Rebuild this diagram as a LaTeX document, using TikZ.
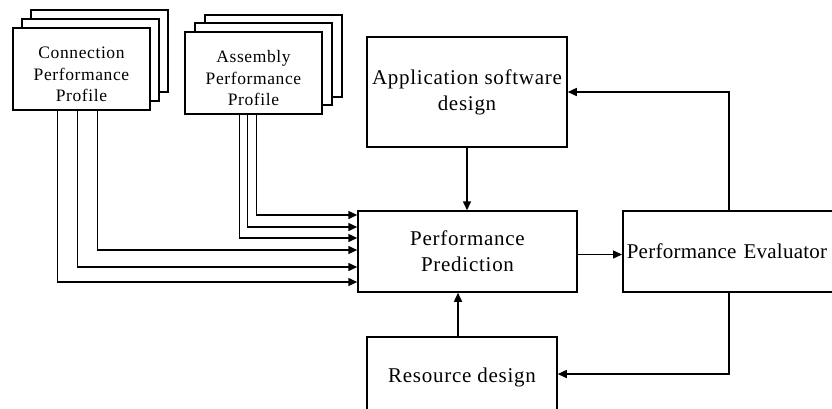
\documentclass[tikz,border=0pt]{standalone}
\usepackage{fontspec}
\setmainfont[LetterSpace=3.5]{Liberation Serif}
\usetikzlibrary{arrows.meta}
\begin{document}
\begin{tikzpicture}[x=1pt,y=-1pt,
  box/.style={draw, line width=1.5pt, fill=white, rectangle, inner sep=0pt},
  mainbox/.style={box, font=\fontsize{21}{26}\selectfont, align=center},
  profbox/.style={box, minimum width=137pt, minimum height=82pt, font=\fontsize{17.5}{21.5}\selectfont, align=center},
  layer/.style={box, minimum width=137pt, minimum height=82pt},
  arr/.style={line width=1.5pt, -{Triangle[length=9pt,width=8pt]}}]
\useasboundingbox (0,0) rectangle (832,408);
\clip (0,0) rectangle (832,408);
% Connection profile stack
\node[layer] (c3) at (99.5,51) {};
\node[layer] (c2) at (90.5,60) {};
\node[profbox] (conn) at (81.5,69) {\rule{0pt}{23pt}Connection\\Performance\\Profile};
% Assembly profile stack
\node[layer] (a3) at (273.5,56) {};
\node[layer] (a2) at (263.5,64) {};
\node[profbox] (asm) at (253.5,73) {\rule{0pt}{23pt}Assembly\\Performance\\Profile};
% Main boxes
\node[mainbox, minimum width=200pt, minimum height=110pt] (app) at (467,92) {Application software\\design};
\node[mainbox, minimum width=219pt, minimum height=81pt] (pred) at (467.5,251.5) {Performance\\Prediction};
\node[mainbox, minimum height=81pt, text width=232pt, inner xsep=4pt, align=left, anchor=west] (eval) at (622,251.5) {\addfontfeature{LetterSpace=1.2}Performance Evaluator};
\node[mainbox, minimum width=190pt, minimum height=74pt] (res) at (462,374) {\rule{0pt}{21pt}Resource design};
% Profile inputs
\draw[arr] ([xshift=72pt]asm.south west) |- ([yshift=36.5pt]pred.west);
\draw[arr] ([xshift=63pt]asm.south west) |- ([yshift=24.5pt]pred.west);
\draw[arr] ([xshift=55pt]asm.south west) |- ([yshift=13.5pt]pred.west);
\draw[arr] ([xshift=85pt]conn.south west) |- ([yshift=1.5pt]pred.west);
\draw[arr] ([xshift=65pt]conn.south west) |- ([yshift=-15.5pt]pred.west);
\draw[arr] ([xshift=45pt]conn.south west) |- ([yshift=-30.5pt]pred.west);
% Main flow
\draw[arr] (app.south) -- (app.south |- pred.north);
\draw[arr] ([xshift=-4pt]res.north) -- ([xshift=-4pt]res.north |- pred.south);
\draw[arr] ([yshift=-3pt]pred.east) -- ([yshift=-3pt]eval.west);
\draw[arr] ([xshift=107pt]eval.north west) |- (app.east);
\draw[arr] ([xshift=107pt]eval.south west) |- (res.east);
\end{tikzpicture}
\end{document}
